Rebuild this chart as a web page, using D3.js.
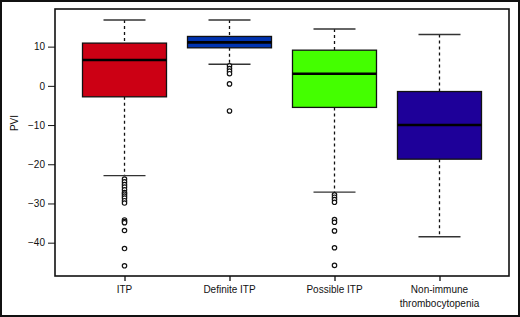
<!DOCTYPE html>
<html>
<head>
<meta charset="utf-8">
<script src="https://cdn.jsdelivr.net/npm/d3@7"></script>
<style>
  body { margin: 0; background: #fff; }
  svg { display: block; font-family: "Liberation Sans", Arial, sans-serif; }
</style>
</head>
<body>
<div id="wrapper"></div>
<script>
// data
const categories = ["ITP", "Definite ITP", "Possible ITP", "Non-immune thrombocytopenia"]
const lowerWhisker = [-22.9, 5.5, -27.1, -38.5]
const q1 = [-2.8, 9.7, -5.5, -18.7]
const medians = [6.6, 11.1, 3.1, -10.0]
const q3 = [10.9, 12.6, 9.1, -1.45]
const upperWhisker = [16.8, 16.8, 14.5, 13.1]
const outliers = [
  [-23.8, -24.5, -25.2, -25.8, -26.5, -27.2, -27.6, -28.1, -28.6, -29.3, -29.9, -34.2, -34.6, -34.9, -36.9, -41.5, -45.9],
  [5.1, 4.4, 3.75, 3.1, 0.5, -6.4],
  [-27.8, -28.4, -29.0, -29.7, -34.1, -34.8, -37.0, -41.3, -45.8],
  []
]
const fills = ["#cc0014", "#0033b0", "#44ff00", "#1e0099"]
const yTicks = [10, 0, -10, -20, -30, -40]

function drawBoxPlot() {
  let dimensions = {
    width: 520,
    height: 317,
    margin: { top: 9, right: 11, bottom: 41, left: 55 },
  }
  dimensions.boundedWidth = dimensions.width - dimensions.margin.left - dimensions.margin.right
  dimensions.boundedHeight = dimensions.height - dimensions.margin.top - dimensions.margin.bottom

  const wrapper = d3.select("#wrapper")
    .append("svg")
    .attr("width", dimensions.width)
    .attr("height", dimensions.height)

  // outer frame
  wrapper.append("rect")
    .attr("x", 1).attr("y", 1)
    .attr("width", dimensions.width - 2).attr("height", dimensions.height - 2)
    .attr("fill", "none").attr("stroke", "#111").attr("stroke-width", 2)

  const bounds = wrapper.append("g")
    .attr("transform", `translate(${dimensions.margin.left},${dimensions.margin.top})`)

  const xScale = d3.scalePoint()
    .domain(categories)
    .range([0, dimensions.boundedWidth])
    .padding(0.662)

  const yScale = d3.scaleLinear()
    .domain([-48.5, 19.6])
    .range([dimensions.boundedHeight, 0])

  const step = xScale.step()
  const boxW = step * 0.8
  const capW = boxW / 2

  const rows = categories.map((c, i) => ({
    cat: c, lo: lowerWhisker[i], q1: q1[i], med: medians[i], q3: q3[i], hi: upperWhisker[i],
    out: outliers[i], fill: fills[i]
  }))

  const groups = bounds.selectAll(".box")
    .data(rows)
    .enter().append("g")
    .attr("class", "box")
    .attr("transform", d => `translate(${xScale(d.cat)},0)`)

  // dashed whiskers
  groups.append("line")
    .attr("y1", d => yScale(d.hi)).attr("y2", d => yScale(d.q3))
    .attr("stroke", "#111").attr("stroke-width", 1.3).attr("stroke-dasharray", "3,3")
  groups.append("line")
    .attr("y1", d => yScale(d.q1)).attr("y2", d => yScale(d.lo))
    .attr("stroke", "#111").attr("stroke-width", 1.3).attr("stroke-dasharray", "3,3")

  // caps
  groups.selectAll(".cap")
    .data(d => [d.hi, d.lo])
    .enter().append("line")
    .attr("x1", -capW / 2).attr("x2", capW / 2)
    .attr("y1", v => yScale(v)).attr("y2", v => yScale(v))
    .attr("stroke", "#333").attr("stroke-width", 1.4)

  groups.append("rect")
    .attr("x", -boxW / 2)
    .attr("width", boxW)
    .attr("y", d => yScale(d.q3))
    .attr("height", d => yScale(d.q1) - yScale(d.q3))
    .attr("fill", d => d.fill)
    .attr("stroke", "#111").attr("stroke-width", 1.3)

  groups.append("line")
    .attr("x1", -boxW / 2).attr("x2", boxW / 2)
    .attr("y1", d => yScale(d.med)).attr("y2", d => yScale(d.med))
    .attr("stroke", "#000").attr("stroke-width", 2.6)

  groups.selectAll(".out")
    .data(d => d.out)
    .enter().append("circle")
    .attr("r", 2.2)
    .attr("cy", v => yScale(v))
    .attr("fill", "#fff").attr("stroke", "#111").attr("stroke-width", 1.2)

  // plot frame
  bounds.append("rect")
    .attr("width", dimensions.boundedWidth)
    .attr("height", dimensions.boundedHeight)
    .attr("fill", "none").attr("stroke", "#111").attr("stroke-width", 1.6)

  // y axis
  const yAxis = bounds.append("g")
    .call(d3.axisLeft(yScale).tickValues(yTicks).tickSize(7).tickPadding(3).tickFormat(d => d3.format("d")(d).replace("-", "\u2212")))
  yAxis.select(".domain").remove()
  yAxis.selectAll("text").attr("font-size", 10).attr("fill", "#111").attr("font-family", "Liberation Sans, Arial, sans-serif")
  yAxis.selectAll("line").attr("stroke", "#111")

  // x axis
  const xAxis = bounds.append("g")
    .attr("transform", `translate(0,${dimensions.boundedHeight})`)
    .call(d3.axisBottom(xScale).tickSize(5).tickFormat(""))
  xAxis.select(".domain").remove()
  xAxis.selectAll("line").attr("stroke", "#111").attr("stroke-width", 1.3)

  const labels = bounds.selectAll(".xlab")
    .data(categories)
    .enter().append("text")
    .attr("x", d => xScale(d))
    .attr("y", dimensions.boundedHeight + 17)
    .attr("text-anchor", "middle")
    .attr("font-size", 10)
    .attr("fill", "#111")
  labels.each(function(d) {
    const parts = d === "Non-immune thrombocytopenia" ? ["Non-immune", "thrombocytopenia"] : [d]
    d3.select(this).selectAll("tspan")
      .data(parts)
      .enter().append("tspan")
      .attr("x", xScale(d))
      .attr("dy", (p, i) => i === 0 ? 0 : 13.5)
      .text(p => p)
  })

  wrapper.append("text")
    .attr("transform", `translate(18,123) rotate(-90)`)
    .attr("text-anchor", "middle")
    .attr("font-size", 10)
    .attr("fill", "#111")
    .text("PVI")
}
drawBoxPlot()
</script>
</body>
</html>
